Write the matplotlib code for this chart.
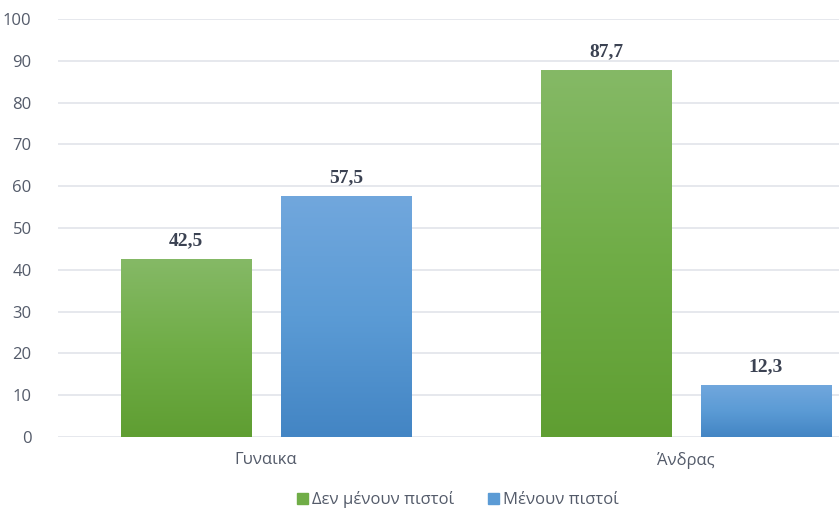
import numpy as np
import matplotlib.pyplot as plt
from matplotlib.colors import LinearSegmentedColormap
from matplotlib.patches import Patch

categories = ['Γυναικα', 'Άνδρας']
series_names = ['Δεν μένουν πιστοί', 'Μένουν πιστοί']
not_faithful = [42.5, 87.7]
faithful = [57.5, 12.3]
value_labels = [['42,5', '87,7'], ['57,5', '12,3']]

green_cmap = LinearSegmentedColormap.from_list('g', ['#5f9e32', '#70ad47', '#85b966'])
blue_cmap = LinearSegmentedColormap.from_list('b', ['#4385c4', '#5b9bd5', '#71a7dd'])

fig = plt.figure(figsize=(8.39, 5.17), dpi=100)
ax = fig.add_axes([58 / 839, 80 / 517, 781 / 839, 418 / 517])

x = np.arange(len(categories))
width = 0.31
offset = 0.19
grad = np.linspace(0, 1, 256).reshape(-1, 1)

for vals, labels, dx, cmap in [(not_faithful, value_labels[0], -offset, green_cmap),
                               (faithful, value_labels[1], offset, blue_cmap)]:
    bars = ax.bar(x + dx, vals, width, color='none', linewidth=0, zorder=3)
    for b, lab in zip(bars, labels):
        x0, w, h = b.get_x(), b.get_width(), b.get_height()
        ax.imshow(grad, cmap=cmap, origin='lower', aspect='auto',
                  extent=[x0, x0 + w, 0, h], zorder=2)
        ax.text(x0 + w / 2, h + 2.5, lab, ha='center', va='bottom',
                fontsize=14, fontweight='bold', family='Liberation Serif', color='#3b4252')

ax.set_xlim(-0.495, 1.364)
ax.set_ylim(0, 100)
ax.set_yticks(range(0, 101, 10))
ax.set_xticks(x)
ax.set_xticklabels(categories)
ax.grid(axis='y', color='#e1e4ea', linewidth=1.2, zorder=0)
ax.set_axisbelow(True)
for s in ax.spines.values():
    s.set_visible(False)
ax.tick_params(axis='y', length=0, pad=19, labelsize=12, labelcolor='#545b6a')
ax.tick_params(axis='x', length=0, pad=11, labelsize=12, labelcolor='#545b6a')
for t in ax.get_xticklabels() + ax.get_yticklabels():
    t.set_family('Open Sans')

handles = [Patch(color='#70ad47'), Patch(color='#5b9bd5')]
fig.legend(handles, series_names, loc='center', bbox_to_anchor=(458 / 839, 1 - 500 / 517),
           ncol=2, frameon=False, handlelength=0.65, handleheight=0.65, handletextpad=0.25,
           columnspacing=2.0, prop={'family': 'Open Sans', 'size': 12}, labelcolor='#545b6a')

fig.savefig('out.png', dpi=100)
